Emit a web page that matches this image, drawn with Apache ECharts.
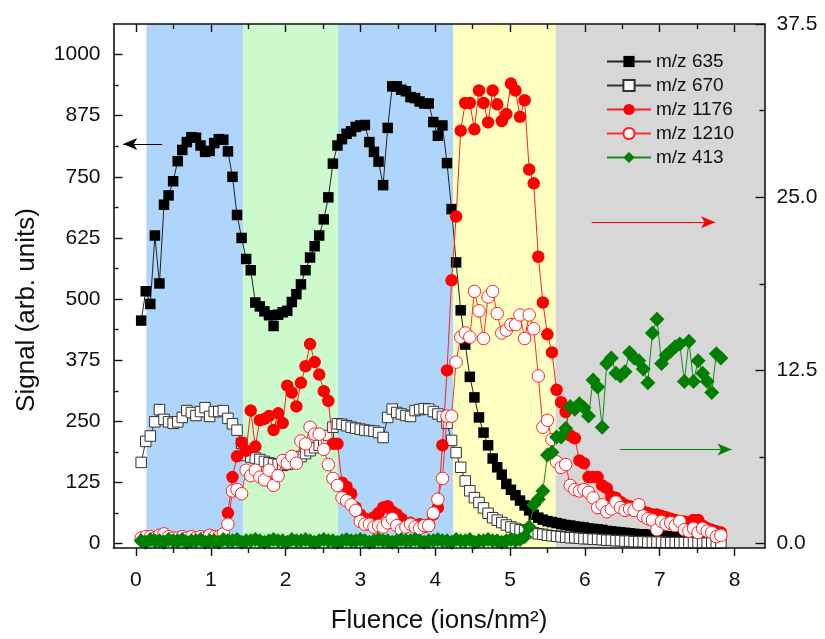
<!DOCTYPE html>
<html>
<head>
<meta charset="utf-8">
<script src="https://cdn.jsdelivr.net/npm/echarts/dist/echarts.min.js"></script>
<style>
html,body{margin:0;padding:0;background:#fff;}
#chart{width:825px;height:639px;}
</style>
</head>
<body>
<div id="chart"></div>
<script>
// Fluence (ions/nm^2) of each measurement
const fluence = [
0.070,0.131,0.192,0.253,0.314,0.375,0.436,0.497,0.558,0.619,
0.680,0.741,0.802,0.863,0.924,0.985,1.046,1.107,1.168,1.229,
1.290,1.351,1.412,1.473,1.534,1.595,1.656,1.717,1.778,1.839,
1.900,1.961,2.022,2.083,2.144,2.205,2.266,2.327,2.388,2.449,
2.510,2.571,2.632,2.693,2.754,2.815,2.876,2.937,2.998,3.059,
3.120,3.181,3.242,3.303,3.364,3.425,3.486,3.547,3.608,3.669,
3.730,3.791,3.852,3.913,3.974,4.035,4.096,4.157,4.218,4.279,
4.340,4.401,4.462,4.523,4.584,4.645,4.706,4.767,4.828,4.889,
4.950,5.011,5.072,5.133,5.194,5.255,5.316,5.377,5.438,5.499,
5.560,5.621,5.682,5.743,5.804,5.865,5.926,5.987,6.048,6.109,
6.170,6.231,6.292,6.353,6.414,6.475,6.536,6.597,6.658,6.719,
6.780,6.841,6.902,6.963,7.024,7.085,7.146,7.207,7.268,7.329,
7.390,7.451,7.512,7.573,7.634,7.695,7.756,7.817];

// m/z 635 (left axis)
const mz635 = [
456,516,490,630,532,693,712,741,782,805,
821,831,830,814,801,803,819,827,826,802,
750,672,625,582,559,493,485,475,467,445,
468,473,476,494,510,530,559,585,608,630,
663,708,777,814,827,838,843,852,855,856,
821,801,781,733,850,935,935,928,925,913,
911,904,900,900,862,834,855,778,684,575,
477,407,341,299,258,227,201,174,156,141,
122,110,99,88,78,68,59,53,49,46,
44,42,40,38,37,35,34,33,31,30,
29,28,26,25,24,23,22,21,20,19,
19,18,17,16,16,15,14,14,13,13,
12,12,11,11,10,10,9,9];

// m/z 670 (left axis)
const mz670 = [
166,209,220,249,274,254,249,246,249,258,
272,268,262,270,278,260,270,270,272,256,
245,232,205,180,177,175,172,168,165,163,
162,160,162,166,172,178,184,190,196,201,
210,221,238,245,244,241,238,236,234,232,
231,230,227,217,258,275,268,265,262,260,
272,274,276,275,270,265,260,246,211,186,
156,128,108,94,84,73,62,53,48,43,
38,34,31,28,26,24,22,20,19,17,
16,15,14,13,12,12,11,10,10,9,
9,8,7,7,6,6,5,5,4,4,
4,3,3,3,3,2,2,2,2,2,
2,2,1,1,1,1,1,1];

// m/z 1176 (right axis)
const mz1176 = [
0.3,0.2,0.4,0.3,0.2,0.3,0.4,0.3,0.2,0.3,
0.3,0.2,0.4,0.3,0.5,0.3,0.2,0.4,0.6,2.2,
4.8,6.3,7.3,6.7,9.6,7.0,8.9,9.0,9.2,8.2,
9.4,8.7,11.4,10.9,9.9,11.6,12.8,14.4,13.1,12.2,
11.0,10.3,7.2,7.2,4.4,4.1,3.6,2.6,2.1,1.8,
1.7,1.9,2.2,2.6,2.7,2.3,2.1,1.8,1.4,1.5,
1.2,1.4,1.2,1.4,2.1,2.6,7.1,12.5,19.0,23.6,
29.8,31.8,31.8,29.9,32.7,31.8,30.4,32.7,31.7,30.5,
31.0,33.2,32.7,30.8,32.0,27.0,26.0,20.7,17.4,15.1,
13.8,11.1,10.2,9.5,7.8,7.6,6.0,5.8,4.8,4.8,
4.8,4.2,4.0,3.4,3.3,3.0,2.8,2.7,2.5,2.4,
2.3,2.2,2.1,2.1,2.0,1.9,1.8,1.7,1.6,1.6,
1.5,1.7,1.7,1.3,1.1,1.0,0.9,0.8];

// m/z 1210 (right axis)
const mz1210 = [
0.4,0.5,0.5,0.4,0.6,0.7,0.5,0.4,0.4,0.5,
0.4,0.5,0.4,0.5,0.4,0.6,0.5,0.5,0.7,1.4,
3.8,3.9,3.6,5.3,4.9,5.3,4.8,4.6,5.3,4.2,
4.9,6.0,5.8,6.3,5.8,7.4,7.2,8.4,7.9,7.9,
6.8,5.7,4.7,4.2,3.3,3.1,2.8,2.4,1.6,1.4,
1.4,1.2,1.3,1.2,1.5,1.8,1.3,1.0,1.2,1.4,
1.2,1.1,1.3,1.3,2.2,3.2,4.7,9.2,9.2,13.1,
14.9,15.2,14.9,18.2,16.8,14.8,17.8,18.2,16.6,15.2,
15.4,15.8,15.8,16.5,14.8,16.5,15.5,12.1,8.4,8.9,
7.5,5.9,5.5,5.7,4.2,3.9,3.8,3.9,3.7,3.3,
2.6,2.8,2.3,2.5,3.0,2.6,2.4,2.5,2.4,2.8,
2.0,1.8,1.7,1.0,1.6,1.4,1.5,1.3,1.6,1.0,
0.9,1.1,0.8,1.1,0.9,0.8,0.5,0.6];

// m/z 413 (right axis)
const mz413 = [
0.2,0.1,0.3,0.2,0.2,0.1,0.3,0.2,0.2,0.3,
0.1,0.2,0.2,0.3,0.1,0.2,0.2,0.1,0.3,0.2,
0.2,0.3,0.1,0.2,0.2,0.3,0.2,0.1,0.2,0.3,
0.2,0.2,0.1,0.3,0.2,0.2,0.3,0.2,0.1,0.2,
0.3,0.2,0.2,0.1,0.2,0.3,0.2,0.2,0.3,0.2,
0.1,0.2,0.3,0.2,0.2,0.1,0.2,0.3,0.2,0.2,
0.3,0.2,0.1,0.2,0.2,0.3,0.2,0.2,0.1,0.3,
0.2,0.2,0.3,0.1,0.2,0.2,0.3,0.2,0.2,0.1,
0.2,0.3,0.2,0.3,0.5,1.2,2.8,3.2,3.8,6.4,
6.6,7.7,7.7,8.3,9.9,9.7,10.1,9.8,9.2,11.8,
11.3,8.4,13.0,13.4,12.3,12.1,12.4,13.8,13.4,13.2,
12.6,11.6,15.2,16.2,13.0,13.6,13.9,14.2,14.4,11.7,
14.6,11.7,13.2,12.3,11.7,10.9,13.7,13.4];

const seriesNames = ['m/z 635','m/z 670','m/z 1176','m/z 1210','m/z 413'];

// Background regions (fluence boundaries)
const bandEdges = [0.14, 1.43, 2.70, 4.24, 5.61, 8.4];
const bandColors = ['#afd5fa','#ccfacc','#afd5fa','#ffffc2','#d7d7d7'];

// Axis ticks / labels
const xTicks = [0,1,2,3,4,5,6,7,8];
const xMinorTicks = [0.5,1.5,2.5,3.5,4.5,5.5,6.5,7.5];
const leftTicks = [0,125,250,375,500,625,750,875,1000];
const leftMinorTicks = [62.5,187.5,312.5,437.5,562.5,687.5,812.5,937.5];
const rightTicks = [0,12.5,25,37.5];
const rightMinorTicks = [6.25,18.75,31.25];

// Arrow annotations: [x0, y0, x1, y1]
const arrowLeft = [0.35, 817, -0.17, 817];
const arrowRed = [6.09, 23.2, 7.74, 23.2];
const arrowGreen = [6.47, 6.8, 7.96, 6.8];

const X_MIN = -0.3, X_MAX = 8.4;
const L_MIN = -9, L_MAX = 1062.5;
const R_MAX = 37.5, R_MIN = L_MIN * R_MAX / L_MAX;

const FONT = '"Liberation Sans", Arial, sans-serif';
const chart = echarts.init(document.getElementById('chart'), null, {renderer:'canvas'});

function pts(vals){ return fluence.map((x,i)=>[x, vals[i]]); }

function xAx(pos, ticks, len, inside, main){
  return {
    type:'value', position:pos, min:X_MIN, max:X_MAX, z:10,
    axisLine:{show:main, onZero:false, lineStyle:{color:'#111', width:1.6}},
    axisTick:{show:true, inside:inside, length:len, customValues:ticks, lineStyle:{color:'#111', width:1.4}},
    axisLabel:{show:(main && pos==='bottom'), customValues:xTicks, margin:22, fontSize:21, color:'#111', fontFamily:FONT},
    splitLine:{show:false}
  };
}
function yAx(pos, mn, mx, ticks, len, main, labelVals, fmt, margin){
  return {
    type:'value', position:pos, min:mn, max:mx, z:10,
    axisLine:{show:main, onZero:false, lineStyle:{color:'#111', width:1.6}},
    axisTick:{show:true, inside:true, length:len, customValues:ticks, lineStyle:{color:'#111', width:1.4}},
    axisLabel:{show:main, customValues:labelVals, formatter:fmt, margin:margin, fontSize:21, color:'#111', fontFamily:FONT},
    splitLine:{show:false}
  };
}

const bandData = [];
for (let k=0;k<bandColors.length;k++){
  bandData.push([{xAxis:bandEdges[k], itemStyle:{color:bandColors[k]}},{xAxis:bandEdges[k+1]}]);
}

function arrowLine(a, color){
  return {
    silent:true, animation:false, symbol:['none','arrow'], symbolSize:[9,14],
    label:{show:false}, emphasis:{disabled:true},
    lineStyle:{color:color, width:1, type:'solid'},
    data:[[{coord:[a[0],a[1]]},{coord:[a[2],a[3]]}]]
  };
}

const option = {
  animation:false,
  backgroundColor:'#ffffff',
  grid:{left:113.5, right:60.5, top:24, bottom:89.5, containLabel:false},
  legend:{
    orient:'vertical', left:606, top:52, padding:0, itemWidth:44, itemHeight:14, itemGap:5,
    selectedMode:false, data:seriesNames,
    textStyle:{fontSize:19, color:'#111', fontFamily:FONT}
  },
  xAxis:[
    Object.assign(xAx('bottom', xTicks, 8, false, true), {name:'Fluence (ions/nm²)', nameLocation:'middle', nameGap:60, nameTextStyle:{fontSize:26, color:'#111', fontFamily:FONT}}),
    xAx('bottom', xMinorTicks, 5, false, false),
    xAx('top', xTicks, 8, true, true),
    xAx('top', xMinorTicks, 5, true, false)
  ],
  yAxis:[
    Object.assign(yAx('left', L_MIN, L_MAX, leftTicks, 9, true, leftTicks, v=>String(v), 13), {name:'Signal (arb. units)', nameLocation:'middle', nameGap:74, nameTextStyle:{fontSize:26, color:'#111', fontFamily:FONT, padding:[0,48,0,0]}}),
    yAx('left', L_MIN, L_MAX, leftMinorTicks, 5, false, [], null, 8),
    yAx('right', R_MIN, R_MAX, rightTicks, 9, true, rightTicks, v=>Number(v).toFixed(1), 12),
    yAx('right', R_MIN, R_MAX, rightMinorTicks, 5, false, [], null, 8)
  ],
  series:[
    {type:'line', name:'bands', data:[], xAxisIndex:0, yAxisIndex:0, z:1, silent:true,
     markArea:{silent:true, animation:false, data:bandData}},
    {type:'line', name:seriesNames[0], data:pts(mz635), xAxisIndex:0, yAxisIndex:0, z:3,
     symbol:'rect', symbolSize:10.5, showAllSymbol:true,
     lineStyle:{color:'#222', width:1}, itemStyle:{color:'#000', borderColor:'#000', borderWidth:0},
     markLine:arrowLine(arrowLeft,'#000')},
    {type:'line', name:seriesNames[1], data:pts(mz670), xAxisIndex:0, yAxisIndex:0, z:3,
     symbol:'rect', symbolSize:10.5, showAllSymbol:true,
     lineStyle:{color:'#333', width:1}, itemStyle:{color:'#fff', borderColor:'#333', borderWidth:1}},
    {type:'line', name:seriesNames[2], data:pts(mz1176), xAxisIndex:0, yAxisIndex:2, z:4,
     symbol:'circle', symbolSize:12.5, showAllSymbol:true,
     lineStyle:{color:'#ff2020', width:1}, itemStyle:{color:'#ff0000', borderColor:'#ff0000', borderWidth:0},
     markLine:arrowLine(arrowRed,'#ff0000')},
    {type:'line', name:seriesNames[3], data:pts(mz1210), xAxisIndex:0, yAxisIndex:2, z:4,
     symbol:'circle', symbolSize:12.5, showAllSymbol:true,
     lineStyle:{color:'#ff3030', width:1}, itemStyle:{color:'#ffffff', borderColor:'#ff2020', borderWidth:1}},
    {type:'line', name:seriesNames[4], data:pts(mz413), xAxisIndex:0, yAxisIndex:2, z:5,
     symbol:'diamond', symbolSize:15, showAllSymbol:true,
     lineStyle:{color:'#1a8a1a', width:1}, itemStyle:{color:'#007f00', borderColor:'#007f00', borderWidth:0},
     markLine:arrowLine(arrowGreen,'#007f00')}
  ]
};
chart.setOption(option);
</script>
</body>
</html>
